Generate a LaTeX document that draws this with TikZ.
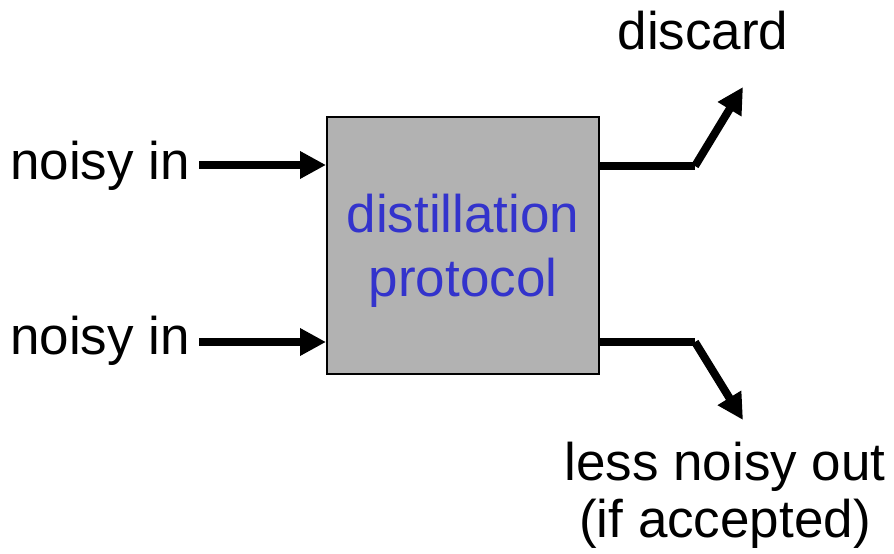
\documentclass[tikz,border=0pt]{standalone}
\usepackage{fontspec}
\setmainfont{Liberation Sans}
\usetikzlibrary{arrows.meta}
\definecolor{protoblue}{rgb}{0.2,0.2,0.8}
\definecolor{protogray}{rgb}{0.7,0.7,0.7}
\tikzset{
  bigtext/.style={font=\fontsize{53bp}{57bp}\selectfont, inner sep=0pt},
  wire/.style={line width=8bp, line join=bevel,
    -{Triangle[length=26bp,width=26bp]}},
  plainwire/.style={line width=8bp, line join=bevel},
}
\begin{document}
\begin{tikzpicture}[x=1bp,y=-1bp]
  \useasboundingbox (0,0) rectangle (894,554);
%%
  % Node: proto
  \node[draw=black, line width=2bp, fill=protogray,
        minimum width=272bp, minimum height=257bp, inner sep=0pt]
        (proto) at (463,245.5) {};
  \node[text=protoblue, align=center, anchor=base, inner sep=0pt,
        font=\fontsize{53bp}{64bp}\selectfont]
        (protoLabel) at (463,297) {distillation\\protocol};
  % Node: inputs
  \node[bigtext, anchor=base east] (noisyA) at (190,180) {noisy in};
  \node[bigtext, anchor=base east] (noisyB) at (190,355) {noisy in};
  % Node: outputs
  \node[bigtext, anchor=base] (discard) at (703,50) {discard};
  \node[bigtext, anchor=base, align=center] (accepted) at (725,537)
        {less noisy out\\(if accepted)};
%%
  \coordinate (inA) at (199,165);
  \coordinate (inB) at (199,342);
  \coordinate (bendA) at (695,166);
  \coordinate (bendB) at (695,342);
  \coordinate (tipA) at (743,87);
  \coordinate (tipB) at (743,420);
  % Edge: noisyA -> proto
  \draw[wire] (inA) -- (inA -| proto.west);
  % Edge: noisyB -> proto
  \draw[wire] (inB) -- (inB -| proto.west);
  % Edge: proto -> discard
  \draw[plainwire] (bendA -| proto.east) -- (bendA);
  \draw[wire] (bendA) -- (tipA);
  % Edge: proto -> accepted
  \draw[plainwire] (bendB -| proto.east) -- (bendB);
  \draw[wire] (bendB) -- (tipB);
%
\end{tikzpicture}
\end{document}
